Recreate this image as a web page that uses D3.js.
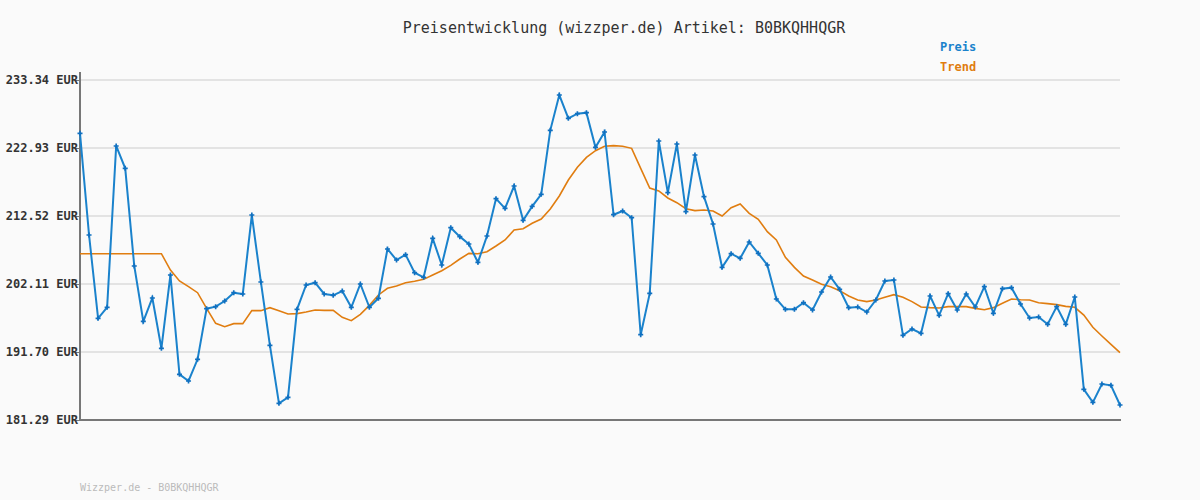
<!DOCTYPE html>
<html><head><meta charset="utf-8">
<script src="https://cdn.jsdelivr.net/npm/d3@7"></script>
<style>body{margin:0;background:#fafafa}svg{display:block}</style></head>
<body><svg id="c" width="1200" height="500"></svg>
<script>
const yTicks=[181.29,191.70,202.11,212.52,222.93,233.34];
const preis=[225.18,209.61,196.85,198.54,223.24,219.82,204.87,196.39,199.97,192.26,203.49,188.28,187.26,190.58,198.33,198.64,199.51,200.78,200.58,212.67,202.42,192.72,183.84,184.76,198.23,201.96,202.31,200.58,200.38,201.04,198.54,202.11,198.54,199.92,207.47,205.78,206.60,203.84,203.13,209.10,205.02,210.73,209.36,208.23,205.43,209.46,215.17,213.69,217.11,211.86,214.00,215.84,225.63,231.04,227.47,228.19,228.34,223.03,225.38,212.72,213.29,212.26,194.35,200.68,224.00,216.09,223.54,213.18,221.86,215.48,211.30,204.66,206.75,206.04,208.54,206.80,205.02,199.81,198.23,198.23,199.25,198.13,200.89,203.18,201.29,198.49,198.59,197.82,199.66,202.57,202.72,194.25,195.22,194.56,200.27,197.31,200.63,198.13,200.58,198.59,201.70,197.62,201.40,201.55,199.05,196.91,197.06,195.94,198.64,195.94,200.12,185.98,183.99,186.80,186.60,183.59];
const trend=[206.75,206.75,206.75,206.75,206.75,206.75,206.75,206.75,206.75,206.75,204.25,202.57,201.70,200.78,198.38,196.09,195.58,196.04,196.04,198.03,198.03,198.49,198.03,197.52,197.57,197.82,198.13,198.08,198.08,197.01,196.50,197.47,198.84,200.43,201.45,201.80,202.31,202.52,202.82,203.49,204.15,204.97,205.94,206.80,206.75,207.06,207.93,208.85,210.38,210.58,211.40,212.06,213.59,215.58,218.03,219.97,221.50,222.52,223.19,223.29,223.19,222.88,219.82,216.81,216.35,215.28,214.56,213.64,213.34,213.44,213.29,212.52,213.80,214.36,212.93,212.01,210.12,208.85,206.19,204.66,203.33,202.72,202.06,201.70,201.09,200.27,199.66,199.41,199.66,200.07,200.48,200.07,199.41,198.59,198.49,198.44,198.64,198.64,198.64,198.38,198.18,198.49,199.15,199.81,199.71,199.66,199.25,199.10,198.95,198.69,198.54,197.36,195.48,194.15,192.87,191.60];
const svg=d3.select("#c");
const font="'DejaVu Sans Mono', monospace";
svg.append("rect").attr("width",1200).attr("height",500).attr("fill","#fafafa");
const x=d3.scaleLinear().domain([0,preis.length-1]).range([80,1120]);
const y=d3.scaleLinear().domain([181.29,233.34]).range([420,80]);
svg.append("g").selectAll("line").data(yTicks.slice(1)).join("line")
 .attr("x1",80).attr("x2",1120).attr("y1",d=>y(d)).attr("y2",d=>y(d))
 .attr("stroke","#e3e3e3").attr("stroke-width",2);
const ax=svg.append("g").attr("transform","translate(80,0)")
 .call(d3.axisLeft(y).tickValues(yTicks).tickSize(4).tickFormat(d=>d.toFixed(2)+" EUR"));
ax.select(".domain").remove();
ax.selectAll("line").attr("stroke","#777");
ax.selectAll("text").attr("font-family",font).attr("font-size",12).attr("font-weight","bold").attr("fill","#333").attr("x",-2);
svg.append("line").attr("x1",80).attr("x2",80).attr("y1",72).attr("y2",421).attr("stroke","#777").attr("stroke-width",2);
svg.append("line").attr("x1",80).attr("x2",1121).attr("y1",420).attr("y2",420).attr("stroke","#777").attr("stroke-width",2);
const line=d3.line().x((d,i)=>x(i)).y(d=>y(d));
svg.append("path").datum(trend).attr("d",line).attr("fill","none").attr("stroke","#e07d10").attr("stroke-width",1.6);
svg.append("path").datum(preis).attr("d",line).attr("fill","none").attr("stroke","#1a82cc").attr("stroke-width",2);
const sym=d3.symbol().type(d3.symbolCross).size(14);
svg.append("g").selectAll("path").data(preis).join("path")
 .attr("transform",(d,i)=>`translate(${x(i)},${y(d)})`).attr("d",sym).attr("fill","#1070c0");
svg.append("text").attr("x",624).attr("y",33).attr("text-anchor","middle").attr("font-family",font).attr("font-size",15).attr("fill","#333").text("Preisentwicklung (wizzper.de) Artikel: B0BKQHHQGR");
svg.append("text").attr("x",940).attr("y",51).attr("font-family",font).attr("font-size",12).attr("font-weight","bold").attr("fill","#1a82cc").text("Preis");
svg.append("text").attr("x",940).attr("y",71).attr("font-family",font).attr("font-size",12).attr("font-weight","bold").attr("fill","#e07d10").text("Trend");
svg.append("text").attr("x",80).attr("y",491).attr("font-family",font).attr("font-size",10).attr("fill","#bbb").text("Wizzper.de - B0BKQHHQGR");
</script></body></html>
